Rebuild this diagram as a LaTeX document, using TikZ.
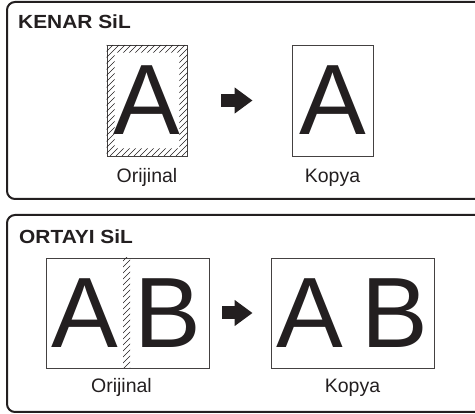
\documentclass[tikz,border=0pt]{standalone}
\usepackage{fontspec}
\setmainfont{Liberation Sans}
\newfontfamily\titlefont[FakeStretch=1.1]{Liberation Sans Bold}
\usepackage{tikz}
\usetikzlibrary{calc,positioning,arrows.meta}
\definecolor{ink}{HTML}{231F20}
\tikzset{
    panel frame/.style={draw=ink,line width=2pt,rounded corners=8pt},
    page sheet/.style={draw=ink!85,line width=0.9pt,inner sep=0pt},
    big letter/.style={inner sep=0pt,text=ink,font=\fontsize{100}{100}\selectfont},
    sheet label/.style={inner sep=0pt,text=ink,font=\fontsize{19.5}{20}\selectfont},
    panel title/.style={inner sep=0pt,anchor=base west,text=ink,
        font=\titlefont\fontsize{19}{20}\selectfont},
    hatch line/.style={draw=ink,line width=0.5pt},
    copy arrow/.style={draw=ink,line width=13pt,-{Triangle[length=18pt,width=25pt]}}
}
\begin{document}
\begin{tikzpicture}[x=1pt,y=-1pt]
\useasboundingbox (0,0) rectangle (475,414);
\clip (0,0) rectangle (475,414);
% edge erase
\draw[panel frame] (7,2) rectangle (490,199);
\node[panel title] (title_edge) at (18,29) {KENAR SiL};
\node[page sheet,minimum width=80pt,minimum height=111pt] (orig_edge) at (147,100.5) {};
\begin{scope}[even odd rule]
\clip (orig_edge.north west) rectangle (orig_edge.south east)
    ($(orig_edge.north west)+(8,8)$) rectangle ($(orig_edge.south east)+(-8,-8)$);
\foreach \i in {0,...,32}
    \draw[hatch line] (-4+6*\i,156) -- ++(111,-111);
\end{scope}
\node[big letter] (letter_edge) at (orig_edge) {A};
\node[sheet label,below=12pt of orig_edge] (lbl_orig_edge) {Orijinal};
\node[page sheet,minimum width=81pt,minimum height=111pt] (copy_edge) at (332.5,100.5) {};
\node[big letter] (letter_copy_edge) at (copy_edge) {A};
\node[sheet label,below=12pt of copy_edge] (lbl_copy_edge) {Kopya};
\draw[copy arrow,shorten <=34pt,shorten >=39pt] (orig_edge) -- (copy_edge);

% centre erase
\draw[panel frame] (7,215) rectangle (490,412);
\node[panel title] (title_mid) at (19,244) {ORTAYI SiL};
\node[page sheet,minimum width=163pt,minimum height=110pt] (orig_mid) at (127.5,313) {};
\begin{scope}
\clip (123,258) rectangle (130,368);
\foreach \i in {0,...,19}
    \draw[hatch line] (122,262+6*\i) -- ++(9,-9);
\end{scope}
\node[big letter] (letter_a) at ($(orig_mid)+(-42.5,0)$) {A};
\node[big letter] (letter_b) at ($(orig_mid)+(40.5,0)$) {B};
\node[sheet label,below=10pt of orig_mid,xshift=-6pt] (lbl_orig_mid) {Orijinal};
\node[page sheet,minimum width=163pt,minimum height=110pt] (copy_mid) at (352.5,313) {};
\node[big letter] (letter_copy_a) at ($(copy_mid)+(-42.5,0)$) {A};
\node[big letter] (letter_copy_b) at ($(copy_mid)+(42.5,0)$) {B};
\node[sheet label,below=10pt of copy_mid] (lbl_copy_mid) {Kopya};
\draw[copy arrow,shorten <=13pt,shorten >=18pt] (orig_mid) -- (copy_mid);
\end{tikzpicture}
\end{document}
